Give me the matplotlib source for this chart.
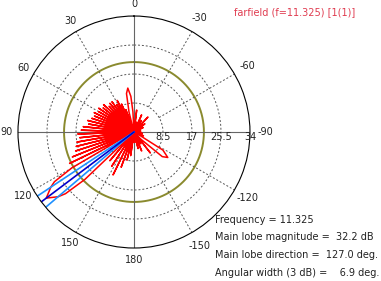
import numpy as np
import matplotlib
matplotlib.use("Agg")
import matplotlib.pyplot as plt

# farfield pattern (theta in deg, gain in dB)
theta_deg = [-180, -175, -171, -166, -162, -158, -154, -150, -146, -142, -138,
             -136, -131, -127, -122, -118, -112, -106, -100, -94, -88, -82, -76, -70,
             -64, -58, -53, -48, -43, -38, -33, -29, -24, -19, -14, -10, -7, -4,
             -1, 1, 3, 5, 8, 11, 14, 16,
             18, 20, 22, 24, 26, 28, 30, 32, 34, 36, 38, 40, 42, 44, 46, 48, 50,
             52, 54, 56, 58, 60, 62, 64, 66, 68, 70, 72, 74, 76, 78, 80, 82, 84,
             86, 88, 90, 92, 94, 96, 98, 100, 102, 104, 106, 108, 110, 112, 114,
             116, 118, 120, 122, 123.5, 127, 130.5, 132, 134, 136, 138,
             140, 143, 147, 150, 154, 157, 160, 163, 166, 169, 172, 175, 178, 180]
gain_db = [0.5, 3, 0.5, 5, 0.5, 6, 0.5, 4, 0.5, 7.8, 1,
           3, 11, 12.4, 10, 1, 3, 0.5, 2.5, 0.5, 2, 0.5, 2, 0.5,
           3, 0.5, 4, 0.5, 6, 0.5, 4, 0.5, 5.5, 0.5, 3, 0.5, 6.5, 0.5,
           2, 0.5, 6, 10.5, 13, 11.5, 6, 0.5,
           0.5, 7, 0.5, 9, 0.5, 10.5, 0.5, 9.5, 0.5, 11, 0.5, 11, 0.5, 10.5, 0.5, 12, 0.5,
           11.5, 0.5, 12.5, 0.5, 12, 0.5, 13, 0.5, 12.5, 0.5, 13, 0.5, 14, 0.5, 13.5, 0.5, 15,
           0.5, 15.5, 0.5, 16.5, 0.5, 16, 0.5, 17, 0.5, 17.5, 0.5, 18, 0.5, 19.5, 0.5,
           21, 3, 21, 27.5, 29.2, 32.2, 29.2, 27, 20, 3, 1,
           11, 1, 12, 1, 14, 1, 11, 1, 8.5, 0.5, 7, 0.5, 3, 0.5]

main_dir = 127.0
main_mag = 32.2
beam_width = 6.9
freq = 11.325
ref_level = 20.5

r_ticks = [8.5, 17, 25.5, 34]
ang_ticks = [0, 30, 60, 90, 120, 150, 180, -150, -120, -90, -60, -30]

fig = plt.figure(figsize=(3.81, 2.81), dpi=100)
ax = fig.add_axes([0.0472, 0.1174, 0.6089, 0.8256], projection='polar')
ax.set_theta_zero_location('N')
ax.set_theta_direction(1)
ax.set_ylim(0, 34)
ax.grid(False)
ax.set_xticks([])
ax.set_yticks([])
ax.spines['polar'].set_color('black')
ax.spines['polar'].set_linewidth(0.8)

full = np.linspace(0, 2 * np.pi, 361)
for r in r_ticks[:-1]:
    ax.plot(full, [r] * len(full), color='#555555', lw=0.7, ls=(0, (2, 2)))
ax.plot(full, [ref_level] * len(full), color='#8a8a2e', lw=1.4)

for a in ang_ticks:
    t = np.deg2rad(a)
    if a % 90 == 0:
        ax.plot([t, t], [0, 34], color='#666666', lw=0.8)
    else:
        ax.plot([t, t], [r_ticks[0], 34], color='#555555', lw=0.7, ls=(0, (2, 2)))

ax.plot(np.deg2rad(theta_deg), gain_db, color='red', lw=1.1)

for d, c in [(main_dir - beam_width / 2, '#1e90ff'), (main_dir + beam_width / 2, '#1e90ff'),
             (main_dir, '#0000cc')]:
    ax.plot([np.deg2rad(d)] * 2, [0, 33.9], color=c, lw=1.2)

for a in ang_ticks:
    rr = 38.5 if a < 0 else 37.5
    ax.text(np.deg2rad(a), rr, str(a), ha='center', va='center',
            fontsize=7, color='#222222')
for r in r_ticks:
    ax.text(np.deg2rad(-90), r, f"{r:g}", ha='center', va='top',
            fontsize=7, color='#222222')

fig.text(0.932, 0.975, f"farfield (f={freq}) [1(1)]", color='#e03c50',
         fontsize=7, ha='right', va='top')
lines = [f"Frequency = {freq}",
         f"Main lobe magnitude =  {main_mag} dB",
         f"Main lobe direction =  {main_dir:.1f} deg.",
         f"Angular width (3 dB) =    {beam_width} deg."]
for i, s in enumerate(lines):
    fig.text(0.564, 1 - (220 + 17.5 * i) / 281, s, fontsize=7, color='#222222',
             ha='left', va='center')

fig.savefig('out.png', dpi=100)
